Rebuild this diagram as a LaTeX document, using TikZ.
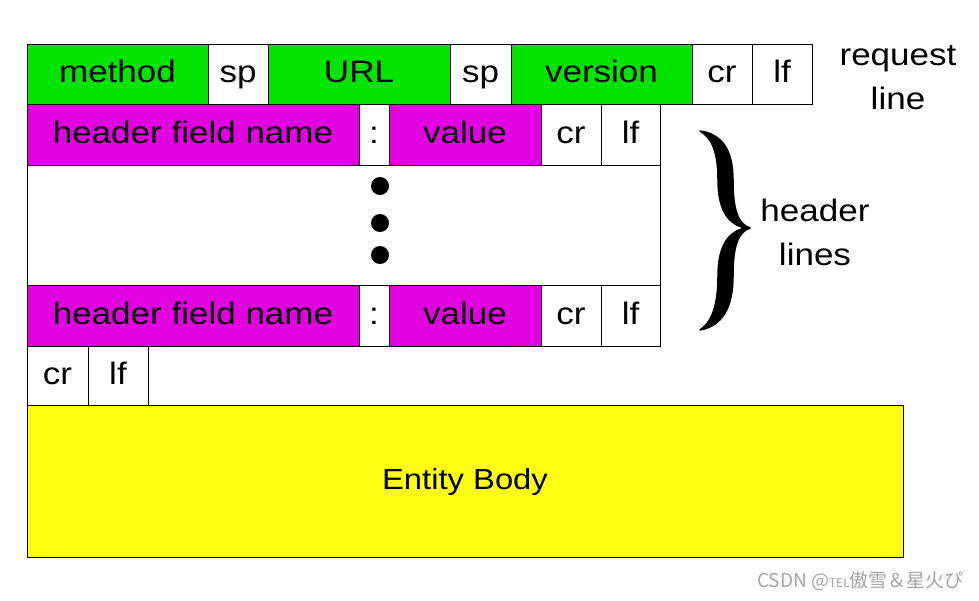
\documentclass[tikz,border=0pt]{standalone}
\usepackage{fontspec}
\setmainfont{Liberation Sans}[FakeStretch=1.13]
\newfontfamily\cjkfont{Noto Sans CJK SC}
\definecolor{fgreen}{RGB}{0,228,0}
\definecolor{fmagenta}{RGB}{224,0,224}
\definecolor{fyellow}{RGB}{255,255,20}
\definecolor{wmgray}{RGB}{165,165,165}
\newcommand\mycell[7]{\node[cell, fill=#6, minimum width={(#3-#2)*1pt}, minimum height={(#5-#4)*1pt}] (#1) at (#2,#4) {#7};}
\begin{document}
\begin{tikzpicture}[x=1pt,y=-1pt,
  cell/.style={draw=black, line width=1pt, anchor=north west, inner sep=0pt, outer sep=0pt, text height=22pt, text depth=5pt, font=\fontsize{31}{38}\selectfont},
  lbl/.style={align=center, font=\fontsize{31}{44}\selectfont, inner sep=0pt},
  dotm/.style={circle, fill=black, inner sep=0pt, minimum size=18pt},
  bracestyle/.style={fill=black, draw=black, line width=1.5pt, line join=round}]
\useasboundingbox (0,0) rectangle (979,600);
\fill[white] (0,0) rectangle (979,600);
% request line
\mycell{method}{27}{208}{44}{104}{fgreen}{method}
\mycell{sp1}{208}{268}{44}{104}{white}{sp}
\mycell{url}{268}{450}{44}{104}{fgreen}{URL}
\mycell{sp2}{450}{511}{44}{104}{white}{sp}
\mycell{version}{511}{692}{44}{104}{fgreen}{version}
\mycell{cr0}{692}{752}{44}{104}{white}{cr}
\mycell{lf0}{752}{812}{44}{104}{white}{lf}
% header line 1
\mycell{hname1}{27}{359}{104}{165}{fmagenta}{header field name}
\mycell{colon1}{359}{389}{104}{165}{white}{:}
\mycell{value1}{389}{541}{104}{165}{fmagenta}{value}
\mycell{cr1}{541}{601}{104}{165}{white}{cr}
\mycell{lf1}{601}{660}{104}{165}{white}{lf}
% middle region
\mycell{middle}{27}{660}{165}{285}{white}{}
\node[dotm] (d1) at (380,186) {};
\node[dotm] (d2) at (380,223) {};
\node[dotm] (d3) at (380,255) {};
% header line 2
\mycell{hname2}{27}{359}{285}{346}{fmagenta}{header field name}
\mycell{colon2}{359}{389}{285}{346}{white}{:}
\mycell{value2}{389}{541}{285}{346}{fmagenta}{value}
\mycell{cr2}{541}{601}{285}{346}{white}{cr}
\mycell{lf2}{601}{660}{285}{346}{white}{lf}
% blank line
\mycell{cr3}{27}{88}{346}{405}{white}{cr}
\mycell{lf3}{88}{148}{346}{405}{white}{lf}
% body
\node[cell, fill=fyellow, minimum width=876pt, minimum height=152pt, font=\fontsize{29}{36}\selectfont, text height=21pt, text depth=4pt] (body) at (27,405) {Entity Body};
% labels
\node[lbl] (reqlbl) at (898,78) {request\\line};
\node[lbl] (hdrlbl) at (815,232) {header\\lines};
% brace
\coordinate (btop) at (700,131);
\coordinate (btip) at (750,228);
\coordinate (bbot) at (700,330);
\filldraw[bracestyle] (btop) .. controls (722,134) and (733,150) .. (733,180)
  .. controls (733,210) and (738,224) .. (btip)
  .. controls (738,232) and (733,246) .. (733,276)
  .. controls (733,308) and (722,326) .. (bbot)
  .. controls (712,322) and (718,305) .. (718,276)
  .. controls (718,246) and (728,232) .. (745,228)
  .. controls (728,224) and (718,210) .. (718,180)
  .. controls (718,152) and (712,138) .. (btop) -- cycle;
% watermark
\node[anchor=east, inner sep=0pt, text=wmgray, font=\cjkfont\fontsize{19}{22}\selectfont] (wm) at (964,581) {CSDN @{\fontsize{12}{14}\selectfont TEL}傲雪＆星火ぴ};
\end{tikzpicture}
\end{document}
